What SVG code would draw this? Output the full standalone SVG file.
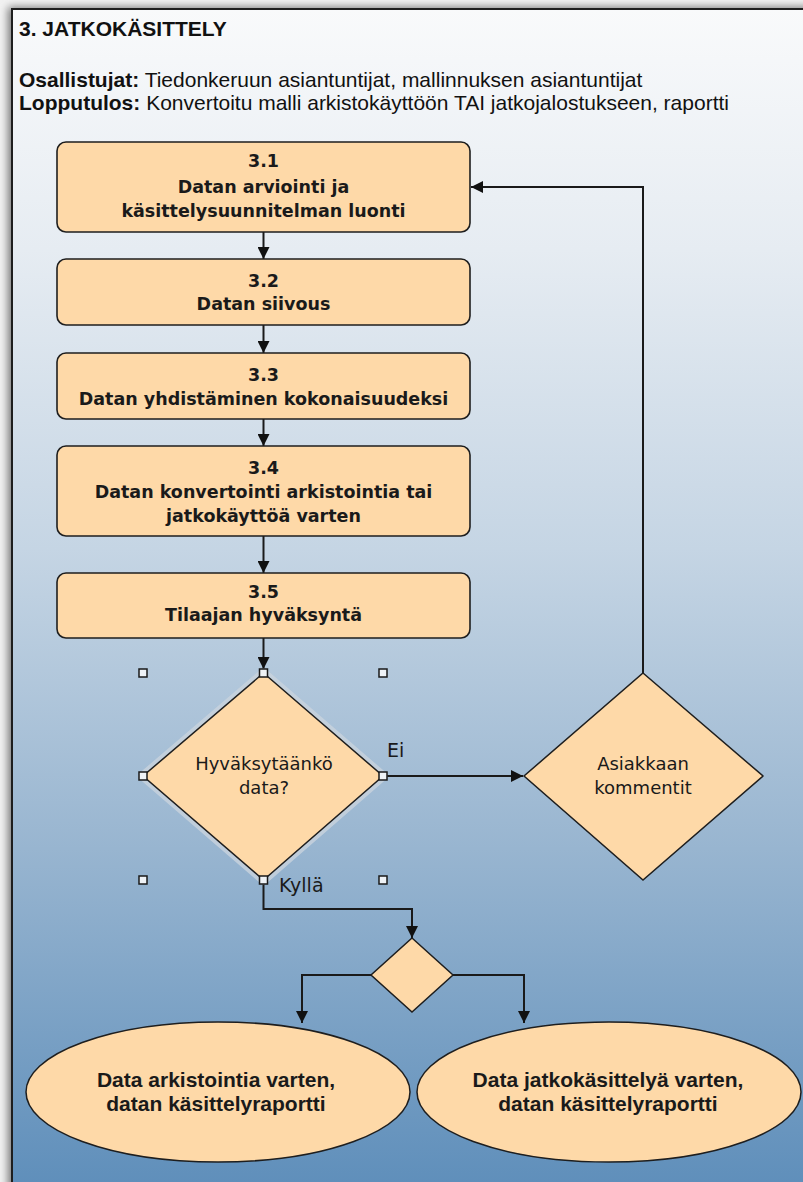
<svg xmlns="http://www.w3.org/2000/svg" width="803" height="1182" viewBox="0 0 803 1182">
<style>
.box{fill:#fed9a8;stroke:#1e1e1e;stroke-width:1.6}
.shape{fill:#fed9a8;stroke:#1e1e1e;stroke-width:1.5}
.bt{font-family:"DejaVu Sans",sans-serif;font-weight:bold;font-size:17.5px;fill:#1a1a1a;text-anchor:middle}
.dt{font-family:"DejaVu Sans",sans-serif;font-size:18px;fill:#1a1a1a;text-anchor:middle}
.lt{font-family:"DejaVu Sans",sans-serif;font-size:19px;fill:#1a1a1a}
.hd{font-family:"Liberation Sans",Arial,sans-serif;font-size:21px;fill:#111}
.et{font-family:"Liberation Sans",Arial,sans-serif;font-weight:bold;font-size:21px;fill:#1a1a1a;text-anchor:middle}
.con{fill:none;stroke:#1a1a1a;stroke-width:2}
.hdl{fill:#eef2f6;stroke:#1a1a1a;stroke-width:1.5}
</style>
<defs>
<linearGradient id="bg" x1="0" y1="0" x2="0" y2="1">
<stop offset="0" stop-color="#f9fafb"/>
<stop offset="0.2" stop-color="#e6ecf2"/>
<stop offset="0.45" stop-color="#c5d5e4"/>
<stop offset="0.7" stop-color="#98b5d0"/>
<stop offset="1" stop-color="#5b8cb9"/>
</linearGradient>
<filter id="sh" x="-5%" y="-5%" width="110%" height="110%">
<feGaussianBlur stdDeviation="4"/>
</filter>
<marker id="ah" viewBox="0 0 12 12" refX="12" refY="6" markerWidth="12" markerHeight="12" markerUnits="userSpaceOnUse" orient="auto">
<path d="M0,0 L12,6 L0,12 Z" fill="#111"/>
</marker>
</defs>
<rect x="0" y="0" width="803" height="1182" fill="#f2f2f2"/>
<rect x="8" y="7" width="820" height="1200" fill="#777" filter="url(#sh)"/>
<rect x="12" y="9" width="820" height="1200" fill="url(#bg)" stroke="#1e1e1e" stroke-width="2"/>
<g id="header">
<text class="hd" x="19" y="36" font-weight="bold">3. JATKOKÄSITTELY</text>
<text class="hd" x="19" y="87"><tspan font-weight="bold">Osallistujat:</tspan> Tiedonkeruun asiantuntijat, mallinnuksen asiantuntijat</text>
<text class="hd" x="19" y="110"><tspan font-weight="bold">Lopputulos:</tspan> Konvertoitu malli arkistokäyttöön TAI jatkojalostukseen, raportti</text>
</g>
<g id="connectors">
<path class="con" d="M263.5,232 V259" marker-end="url(#ah)"/>
<path class="con" d="M263.5,325 V353" marker-end="url(#ah)"/>
<path class="con" d="M263.5,419 V446" marker-end="url(#ah)"/>
<path class="con" d="M263.5,536 V573" marker-end="url(#ah)"/>
<path class="con" d="M263.5,638 V669" marker-end="url(#ah)"/>
<path class="con" d="M383,776 H523" marker-end="url(#ah)"/>
<path class="con" d="M643,673 V187 H471" marker-end="url(#ah)"/>
<path class="con" d="M263.5,880 V909 H412 V938" marker-end="url(#ah)"/>
<path class="con" d="M371,975 H302 V1023" marker-end="url(#ah)"/>
<path class="con" d="M453,975 H524 V1023" marker-end="url(#ah)"/>
</g>
<g id="n31">
<rect class="box" x="57" y="142" width="413" height="90" rx="9"/>
<text class="bt" x="263.5" y="167">3.1</text>
<text class="bt" x="263.5" y="192.5">Datan arviointi ja</text>
<text class="bt" x="263.5" y="217">käsittelysuunnitelman luonti</text>
</g>
<g id="n32">
<rect class="box" x="57" y="259" width="413" height="66" rx="9"/>
<text class="bt" x="263.5" y="286.5">3.2</text>
<text class="bt" x="263.5" y="310">Datan siivous</text>
</g>
<g id="n33">
<rect class="box" x="57" y="353" width="413" height="66" rx="9"/>
<text class="bt" x="263.5" y="380.5">3.3</text>
<text class="bt" x="263.5" y="405">Datan yhdistäminen kokonaisuudeksi</text>
</g>
<g id="n34">
<rect class="box" x="57" y="446" width="413" height="90" rx="9"/>
<text class="bt" x="263.5" y="474">3.4</text>
<text class="bt" x="263.5" y="498">Datan konvertointi arkistointia tai</text>
<text class="bt" x="263.5" y="522">jatkokäyttöä varten</text>
</g>
<g id="n35">
<rect class="box" x="57" y="573" width="413" height="65" rx="9"/>
<text class="bt" x="263.5" y="598">3.5</text>
<text class="bt" x="263.5" y="621">Tilaajan hyväksyntä</text>
</g>
<g id="d1">
<path d="M263.5,673 L383,776 L263.5,880 L143,776 Z" fill="none" stroke="#c9d3dd" stroke-opacity="0.8" stroke-width="9" stroke-linejoin="round"/>
<path class="shape" d="M263.5,673 L383,776 L263.5,880 L143,776 Z"/>
<text class="dt" x="264" y="770">Hyväksytäänkö</text>
<text class="dt" x="264" y="794">data?</text>
<rect class="hdl" x="139" y="669" width="8" height="8"/>
<rect class="hdl" x="259.5" y="669" width="8" height="8"/>
<rect class="hdl" x="379" y="669" width="8" height="8"/>
<rect class="hdl" x="139" y="772" width="8" height="8"/>
<rect class="hdl" x="379" y="772" width="8" height="8"/>
<rect class="hdl" x="139" y="876" width="8" height="8"/>
<rect class="hdl" x="259.5" y="876" width="8" height="8"/>
<rect class="hdl" x="379" y="876" width="8" height="8"/>
</g>
<g id="labels">
<text class="lt" x="387" y="757">Ei</text>
<text class="lt" x="279" y="892">Kyllä</text>
</g>
<g id="d2">
<path class="shape" d="M643,673 L763,776 L643,880 L524,776 Z"/>
<text class="dt" x="643" y="770">Asiakkaan</text>
<text class="dt" x="643" y="794">kommentit</text>
</g>
<g id="d3">
<path class="shape" d="M412,938 L453,975 L412,1012 L371,975 Z"/>
</g>
<g id="e1">
<ellipse class="shape" cx="218" cy="1092" rx="192" ry="70"/>
<text class="et" x="216" y="1087">Data arkistointia varten,</text>
<text class="et" x="216" y="1111">datan käsittelyraportti</text>
</g>
<g id="e2">
<ellipse class="shape" cx="609" cy="1092" rx="192" ry="70"/>
<text class="et" x="608" y="1087">Data jatkokäsittelyä varten,</text>
<text class="et" x="608" y="1111">datan käsittelyraportti</text>
</g>
</svg>
